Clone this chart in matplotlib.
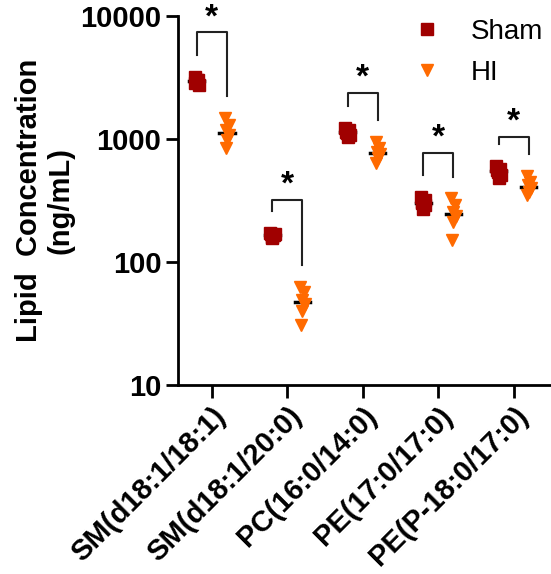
import numpy as np
import matplotlib
matplotlib.use('Agg')
from matplotlib import pyplot as plt

plt.rcParams['font.family'] = ['Liberation Sans', 'DejaVu Sans']

# lipid species on the x axis
lipids = ['SM(d18:1/18:1)', 'SM(d18:1/20:0)', 'PC(16:0/14:0)',
          'PE(17:0/17:0)', 'PE(P-18:0/17:0)']

# concentrations (ng/mL)
sham = [
    [3200, 3050, 2900, 2750, 3000, 2850],
    [172, 165, 160, 168, 158, 170],
    [1230, 1180, 1120, 1080, 1040, 1150],
    [340, 320, 300, 290, 270, 310],
    [610, 570, 540, 510, 480, 560],
]
hi = [
    [1480, 1300, 1180, 1080, 980, 845],
    [63, 57, 49, 46, 40, 31],
    [950, 850, 790, 760, 700, 640],
    [330, 290, 255, 235, 210, 150],
    [500, 450, 420, 400, 370, 350],
]
# top of the significance brackets
bracket_top = [7400, 320, 2370, 770, 1040]

sham_color = '#A00000'
hi_color = '#FF6A00'
offset = 0.2
jitter = np.array([-0.03, 0.02, -0.01, 0.03, 0.0, -0.02])

fig = plt.figure(figsize=(5.51, 5.74), dpi=100)
ax = fig.add_axes([0.323, 0.329, 0.675, 0.643])

x = np.arange(len(lipids))
for i in x:
    s = np.array(sham[i])
    h = np.array(hi[i])
    # median bars
    ax.plot([i - offset - 0.1, i - offset + 0.1], [np.median(s)] * 2,
            color='black', lw=2.5, zorder=2)
    ax.plot([i + offset - 0.1, i + offset + 0.1], [np.median(h)] * 2,
            color='black', lw=2.5, zorder=2)
    ax.plot(i - offset + jitter[:len(s)], s, 's', color=sham_color, ms=9,
            zorder=3, label='Sham' if i == 0 else None)
    ax.plot(i + offset + jitter[:len(h)], h, 'v', color=hi_color, ms=9,
            zorder=3, label='HI' if i == 0 else None)

    # significance bracket
    left_y = s.max() * 1.5
    right_y = h.max() * 1.5
    top = bracket_top[i]
    ax.plot([i - offset, i - offset, i + offset, i + offset],
            [left_y, top, top, right_y], color='#222222', lw=1.5, zorder=1)
    ax.text(i, top * 1.12, '*', ha='center', va='baseline', fontsize=24,
            fontweight='bold')

ax.set_yscale('log')
ax.set_ylim(10, 10000)
ax.set_yticks([10, 100, 1000, 10000])
ax.set_yticklabels(['10', '100', '1000', '10000'])
ax.minorticks_off()
ax.set_xlim(-0.45, 4.48)
ax.set_xticks(x)
ax.set_xticklabels(lipids, rotation=45, ha='right', rotation_mode='anchor')

for lab in ax.get_xticklabels() + ax.get_yticklabels():
    lab.set_fontweight('bold')
    lab.set_fontsize(21)

ax.set_ylabel('Lipid  Concentration\n(ng/mL)', fontsize=21,
              fontweight='bold', labelpad=4, linespacing=1.15)

for side in ['top', 'right']:
    ax.spines[side].set_visible(False)
for side in ['left', 'bottom']:
    ax.spines[side].set_linewidth(2)
ax.tick_params(axis='both', width=2, length=9, pad=3)

ax.legend(loc='upper right', frameon=False, fontsize=20,
          bbox_to_anchor=(1.05, 1.06), handletextpad=1.0, labelspacing=0.55,
          handlelength=1.2)

fig.savefig('out.png', dpi=100)
